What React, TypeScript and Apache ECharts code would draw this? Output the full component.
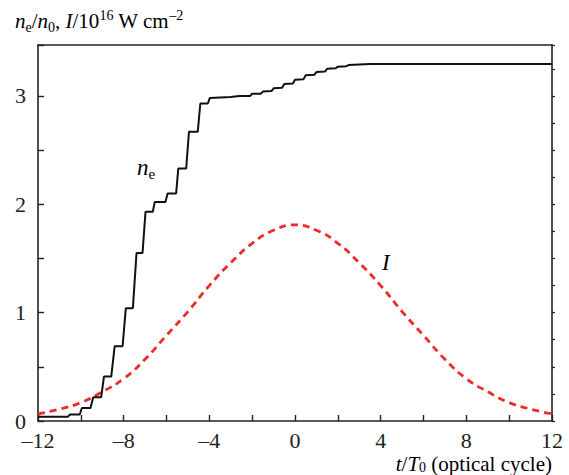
import React, { useEffect, useRef } from "react";
import * as echarts from "echarts";

// electron density n_e/n_0 (t, value)
const neT = [-12, -10.6, -10.5, -10.05, -9.95, -9.55, -9.42, -9.05, -8.92, -8.58, -8.42, -8.05, -7.9, -7.57, -7.4, -7.12, -6.98, -6.64, -6.55, -6.05, -5.95, -5.55, -5.45, -5.08, -4.95, -4.54, -4.42, -4.07, -3.98, -3.0, -2.6, -2.1, -2.0, -1.6, -1.5, -1.1, -1.0, -0.6, -0.5, -0.1, 0.0, 0.4, 0.5, 0.9, 1.0, 1.4, 1.5, 1.9, 2.0, 2.4, 2.5, 3.0, 3.5, 12];
const neV = [0.04, 0.04, 0.06, 0.06, 0.12, 0.12, 0.22, 0.22, 0.41, 0.41, 0.69, 0.69, 1.04, 1.04, 1.55, 1.55, 1.93, 1.93, 2.02, 2.02, 2.10, 2.10, 2.33, 2.33, 2.67, 2.67, 2.93, 2.93, 2.98, 2.99, 3.0, 3.0, 3.02, 3.02, 3.04, 3.045, 3.07, 3.075, 3.11, 3.115, 3.15, 3.155, 3.19, 3.195, 3.22, 3.225, 3.25, 3.255, 3.27, 3.275, 3.285, 3.29, 3.295, 3.295];

// intensity I / 10^16 W cm^-2
const iT = [-12, -11, -10, -9, -8, -7, -6, -5, -4, -3, -2, -1, 0, 1, 2, 3, 4, 5, 6, 7, 8, 9, 10, 11, 12];
const iV = [0.065, 0.11, 0.17, 0.27, 0.39, 0.57, 0.79, 1.01, 1.25, 1.46, 1.64, 1.76, 1.81, 1.76, 1.64, 1.46, 1.25, 1.01, 0.79, 0.57, 0.39, 0.27, 0.17, 0.11, 0.065];

const FONT = "'Liberation Serif', 'DejaVu Serif', serif";
const INK = "#222";

const mkRich = (size: number, small: number, lh: number) => ({
  i: { fontFamily: FONT, fontStyle: "italic", fontSize: size, lineHeight: lh, verticalAlign: "middle", color: INK },
  r: { fontFamily: FONT, fontSize: size, lineHeight: lh, verticalAlign: "middle", color: INK },
  s: { fontFamily: FONT, fontSize: small, lineHeight: small, verticalAlign: "bottom", color: INK },
  p: { fontFamily: FONT, fontSize: small, lineHeight: small, verticalAlign: "top", color: INK },
});

const fmt = (v: number) => (v < 0 ? "\u2013" + Math.abs(v) : String(v));

export default function App() {
  const ref = useRef<HTMLDivElement>(null);
  useEffect(() => {
    if (!ref.current) return;
    const chart = echarts.init(ref.current, undefined, { renderer: "svg" });
    const axisLine = { show: true, onZero: false, lineStyle: { color: INK, width: 1.6 } };
    chart.setOption({
      animation: false,
      backgroundColor: "#fff",
      grid: { left: 38, right: 17, top: 45, bottom: 54 },
      xAxis: [
        {
          type: "value",
          min: -12,
          max: 12,
          interval: 2,
          axisLine,
          axisTick: { inside: true, length: 6, lineStyle: { color: INK, width: 1.4 } },
          splitLine: { show: false },
          axisLabel: {
            formatter: (v: number) => (v % 4 === 0 ? fmt(v) : ""),
            fontFamily: FONT,
            fontSize: 22,
            lineHeight: 20,
            color: INK,
            margin: 9,
          },
        },
        {
          type: "value",
          position: "top",
          min: -12,
          max: 12,
          axisLine,
          axisTick: { show: false },
          axisLabel: { show: false },
          splitLine: { show: false },
        },
      ],
      yAxis: [
        {
          type: "value",
          min: 0,
          max: 3.47,
          interval: 0.5,
          axisLine,
          axisTick: { inside: true, length: 6, lineStyle: { color: INK, width: 1.4 } },
          splitLine: { show: false },
          axisLabel: {
            formatter: (v: number) => (Number.isInteger(v) ? String(v) : ""),
            fontFamily: FONT,
            fontSize: 22,
            color: INK,
            margin: 12,
          },
        },
        {
          type: "value",
          position: "right",
          min: 0,
          max: 3.47,
          interval: 0.25,
          axisLine,
          axisTick: { inside: false, length: 3, lineStyle: { color: INK, width: 1.2 } },
          axisLabel: { show: false },
          splitLine: { show: false },
        },
      ],
      series: [
        {
          type: "line",
          data: iT.map((t, k) => [t, iV[k]]),
          smooth: true,
          showSymbol: false,
          lineStyle: { color: "#ee2b2b", width: 2.8, type: [7, 5] },
          z: 2,
        },
        {
          type: "line",
          data: neT.map((t, k) => [t, neV[k]]),
          showSymbol: false,
          lineStyle: { color: "#111", width: 2 },
          z: 3,
        },
      ],
      graphic: [
        {
          type: "text",
          left: 15,
          top: 8,
          style: { text: "{i|n}{s|e}{r|/}{i|n}{s|0}{r|, }{i|I}{r|/10}{p|16}{r| W cm}{p|\u20132}", rich: mkRich(21, 14, 26) },
        },
        {
          type: "text",
          right: 17,
          top: 453,
          style: { text: "{i|t}{r|/}{i|T}{s|0}{r| (optical cycle)}", rich: mkRich(21, 14, 22) },
        },
        {
          type: "text",
          left: 137,
          top: 156,
          style: { text: "{i|n}{s|e}", rich: mkRich(23, 15, 28) },
        },
        {
          type: "text",
          left: 382,
          top: 251,
          style: { text: "{i|I}", rich: mkRich(23, 15, 28) },
        },
      ],
    });
    return () => chart.dispose();
  }, []);
  return <div ref={ref} style={{ width: 569, height: 475, position: "absolute", left: 0, top: 0 }} />;
}
